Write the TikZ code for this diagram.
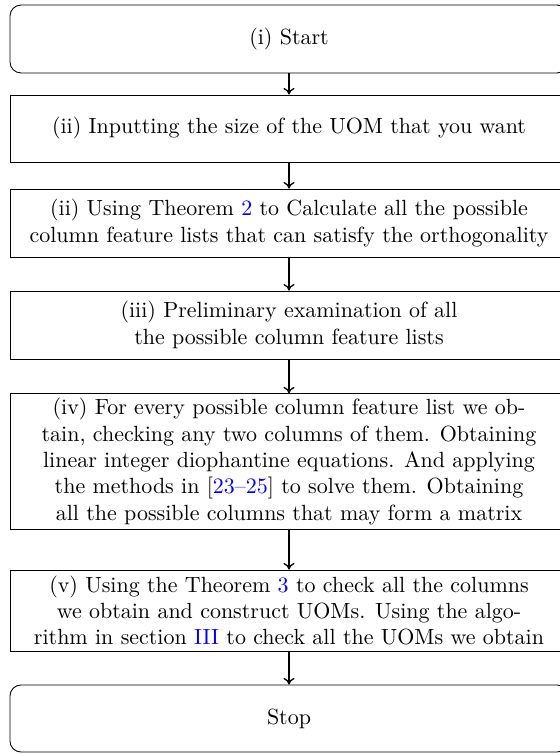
\documentclass[tikz,border=0pt]{standalone}
\usepackage{xcolor}
\usetikzlibrary{arrows.meta}
\begin{document}
\begin{tikzpicture}[x=0.455pt,y=-0.455pt,
  box/.style={draw, line width=0.4pt, minimum width=253.9pt, align=center, inner sep=2pt},
  term/.style={box, rounded corners=5pt},
  arr/.style={-{To[length=3pt,width=5pt]}, line width=0.6pt},
  refc/.style={}]
\useasboundingbox (0,0) rectangle (559,754);
\node[term, minimum height=30.9pt] (start) at (289,39) {(i) Start};
\node[box, minimum height=30.5pt] (b2) at (289,128.5) {(ii) Inputting the size of the UOM that you want};
\node[box, minimum height=30.9pt] (b3) at (289,223) {(ii) Using Theorem \textcolor{blue}{2} to Calculate all the possible\\column feature lists that can satisfy the orthogonality};
\node[box, minimum height=30.9pt] (b4) at (289,325) {(iii) Preliminary examination of all\\the possible column feature lists};
\node[box, minimum height=61.4pt] (b5) at (289,461.5) {(iv) For every possible column feature list we ob-\\tain, checking any two columns of them. Obtaining\\linear integer diophantine equations. And applying\\the methods in [\textcolor{blue}{23--25}] to solve them. Obtaining\\all the possible columns that may form a matrix};
\node[box, minimum height=36.9pt] (b6) at (289,610.5) {(v) Using the Theorem \textcolor{blue}{3} to check all the columns\\we obtain and construct UOMs. Using the algo-\\rithm in section \textcolor{blue}{III} to check all the UOMs we obtain};
\node[term, minimum height=30.5pt] (stop) at (289,718.5) {Stop};
\draw[arr] (start) -- (b2);
\draw[arr] (b2) -- (b3);
\draw[arr] (b3) -- (b4);
\draw[arr] (b4) -- (b5);
\draw[arr] (b5) -- (b6);
\draw[arr] (b6) -- (stop);
\end{tikzpicture}
\end{document}
